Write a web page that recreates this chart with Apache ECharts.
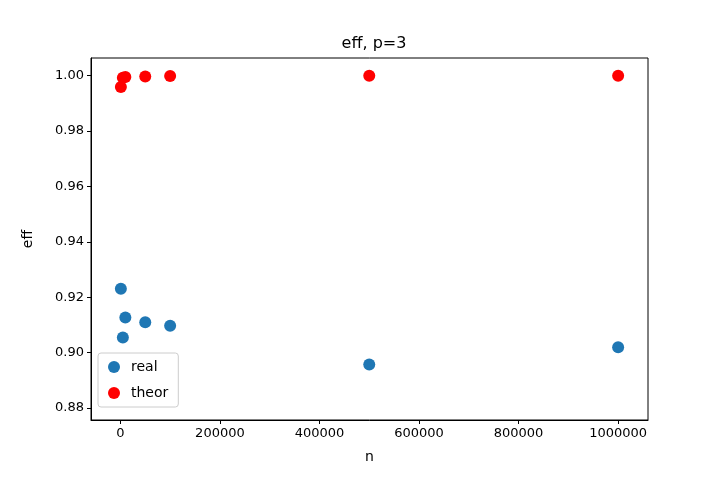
<!DOCTYPE html>
<html>
<head>
<meta charset="utf-8">
<script src="https://cdn.jsdelivr.net/npm/echarts@6/dist/echarts.min.js"></script>
<style>html,body{margin:0;padding:0;background:#fff}#c{width:720px;height:480px}</style>
</head>
<body>
<div id="c"></div>
<script>
// data
const nValues = [1000, 5000, 10000, 50000, 100000, 500000, 1000000]
const realEff = [0.9231, 0.9055, 0.9127, 0.911, 0.9097, 0.8957, 0.902]
const theorEff = [0.9959, 0.9993, 0.9995, 0.9997, 0.9999, 1.0, 1.0]
const xTicks = [0, 200000, 400000, 600000, 800000, 1000000]
const yTicks = [0.88, 0.90, 0.92, 0.94, 0.96, 0.98, 1.00]

const pairs = (xs, ys) => xs.map((x, i) => [x, ys[i]])
const font = 'DejaVu Sans'

const chart = echarts.init(document.getElementById('c'))
chart.setOption({
  animation: false,
  textStyle: {fontFamily: font},
  title: {text: 'eff, p=3', left: 369, top: 31, textAlign: 'center',
    textStyle: {fontFamily: font, fontSize: 16, fontWeight: 'normal', color: '#000'}},
  grid: {left: 91, right: 72, top: 58, bottom: 60},
  xAxis: {
    type: 'value', min: -59000, max: 1060000,
    name: 'n', nameLocation: 'middle', nameGap: 30,
    nameTextStyle: {fontSize: 14, color: '#000'},
    axisLine: {onZero: false, lineStyle: {color: '#000'}},
    axisTick: {customValues: xTicks, length: 4, inside: false, lineStyle: {color: '#000'}},
    axisLabel: {customValues: xTicks, fontSize: 13, color: '#000', margin: 7,
      formatter: v => String(v)},
    splitLine: {show: false}
  },
  yAxis: {
    type: 'value', min: 0.8757, max: 1.0064,
    name: 'eff', nameLocation: 'middle', nameGap: 56,
    nameTextStyle: {fontSize: 14, color: '#000'},
    axisLine: {show: true, onZero: false, lineStyle: {color: '#000'}},
    axisTick: {show: true, customValues: yTicks, length: 4, lineStyle: {color: '#000'}},
    axisLabel: {customValues: yTicks, fontSize: 13, color: '#000', margin: 7,
      formatter: v => v.toFixed(2)},
    splitLine: {show: false}
  },
  // top + right frame lines
  graphic: [
    {type: 'rect', shape: {x: 91, y: 58, width: 557, height: 362},
      style: {fill: 'none', stroke: '#000', lineWidth: 1}, silent: true, z: 0}
  ],
  legend: {
    orient: 'vertical', left: 98, top: 353,
    itemWidth: 12, itemHeight: 12, itemGap: 12,
    borderColor: '#ccc', borderWidth: 1, borderRadius: 3, padding: [7, 10, 7, 10],
    textStyle: {fontSize: 14, color: '#000', fontFamily: font, padding: [0, 0, 0, 6]},
    data: [{name: 'real', icon: 'circle'}, {name: 'theor', icon: 'circle'}]
  },
  series: [
    {name: 'real', type: 'scatter', symbolSize: 12, itemStyle: {color: '#1f77b4', opacity: 1},
      data: pairs(nValues, realEff)},
    {name: 'theor', type: 'scatter', symbolSize: 12, itemStyle: {color: '#ff0000', opacity: 1},
      data: pairs(nValues, theorEff)}
  ]
})
</script>
</body>
</html>
